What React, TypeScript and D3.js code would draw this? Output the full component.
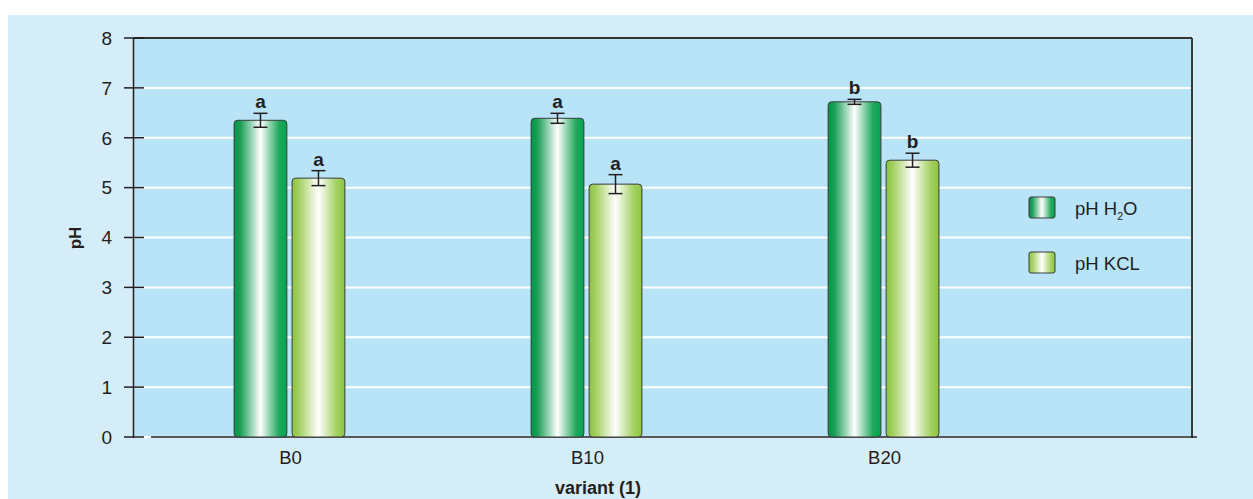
import React from "react";
import * as d3 from "d3";

// Soil pH by variant, measured in water and in KCl
const categories = ["B0", "B10", "B20"];
const seriesNames = ["pH H2O", "pH KCL"];
const phH2O = [6.35, 6.39, 6.72];
const phH2OErr = [0.14, 0.1, 0.05];
const phKCL = [5.19, 5.07, 5.55];
const phKCLErr = [0.15, 0.19, 0.14];
const h2oLetters = ["a", "a", "b"];
const kclLetters = ["a", "a", "b"];
const yTicks = [0, 1, 2, 3, 4, 5, 6, 7, 8];

const W = 1253;
const H = 499;
const FONT = "'Liberation Sans', Arial, Helvetica, sans-serif";
const INK = "#231f20";

const plot = { left: 133.5, right: 1192, top: 38, bottom: 437 };

export default function App() {
  const y = d3.scaleLinear().domain([0, 8]).range([plot.bottom, plot.top]);
  const x = d3
    .scaleBand<string>()
    .domain(categories)
    .range([142, 1031])
    .paddingInner(0.627)
    .paddingOuter(0.31);
  const xs = d3
    .scaleBand<string>()
    .domain(seriesNames)
    .range([0, x.bandwidth()])
    .paddingInner(0.09);

  const series = [
    { name: seriesNames[0], values: phH2O, errs: phH2OErr, letters: h2oLetters, grad: "gH2O" },
    { name: seriesNames[1], values: phKCL, errs: phKCLErr, letters: kclLetters, grad: "gKCL" },
  ];

  const bw = xs.bandwidth();

  return (
    <svg
      width={W}
      height={H}
      style={{ position: "absolute", left: 0, top: 0, background: "#ffffff" }}
      fontFamily={FONT}
    >
      <defs>
        <linearGradient id="gH2O" x1="0" x2="1" y1="0" y2="0">
          <stop offset="0" stopColor="#009548" />
          <stop offset="0.12" stopColor="#1a9f57" />
          <stop offset="0.5" stopColor="#ffffff" />
          <stop offset="0.85" stopColor="#20a85c" />
          <stop offset="1" stopColor="#00a551" />
        </linearGradient>
        <linearGradient id="gKCL" x1="0" x2="1" y1="0" y2="0">
          <stop offset="0" stopColor="#8cc43e" />
          <stop offset="0.12" stopColor="#a2cf5e" />
          <stop offset="0.5" stopColor="#ffffff" />
          <stop offset="0.85" stopColor="#a3d060" />
          <stop offset="1" stopColor="#8dc63f" />
        </linearGradient>
      </defs>

      {/* outer panel */}
      <rect x={8} y={15} width={W - 8} height={H - 15} fill="#d5edf8" />

      {/* plot area */}
      <rect
        x={plot.left}
        y={plot.top}
        width={plot.right - plot.left}
        height={plot.bottom - plot.top}
        fill="#b9e4f8"
      />

      {/* gridlines */}
      {yTicks.map((t) => (
        <line
          key={"g" + t}
          x1={plot.left}
          x2={plot.right}
          y1={y(t)}
          y2={y(t)}
          stroke="#ffffff"
          strokeWidth={2}
        />
      ))}

      {/* frame: top and right */}
      <line x1={plot.left} x2={plot.right} y1={plot.top} y2={plot.top} stroke="#333" strokeWidth={2} />
      <line x1={plot.right} x2={plot.right} y1={plot.top} y2={plot.bottom + 1} stroke="#3a3a3a" strokeWidth={2} />

      {/* x axis */}
      <line x1={151} x2={1197} y1={plot.bottom} y2={plot.bottom} stroke={INK} strokeWidth={1.5} />

      {/* y axis */}
      <line x1={plot.left} x2={plot.left} y1={plot.top} y2={plot.bottom + 1} stroke={INK} strokeWidth={1.5} />
      {yTicks.map((t) => (
        <g key={"t" + t}>
          <line x1={124} x2={144} y1={y(t)} y2={y(t)} stroke={INK} strokeWidth={1.5} />
          <text
            x={112}
            y={y(t)}
            dy="0.36em"
            textAnchor="end"
            fontSize={19}
            fill={INK}
          >
            {t}
          </text>
        </g>
      ))}

      {/* bars with error bars and significance letters */}
      {categories.map((c, i) => (
        <g key={c} transform={`translate(${x(c)},0)`}>
          {series.map((s) => {
            const bx = xs(s.name) as number;
            const v = s.values[i];
            const e = s.errs[i];
            const cx = bx + bw / 2;
            return (
              <g key={s.name}>
                <rect
                  x={bx}
                  y={y(v)}
                  width={bw}
                  height={y(0) - y(v)}
                  rx={3.5}
                  fill={`url(#${s.grad})`}
                  stroke="#3a3a3a"
                  strokeWidth={1}
                />
                <line x1={cx} x2={cx} y1={y(v + e)} y2={y(v - e)} stroke={INK} strokeWidth={1.5} />
                <line x1={cx - 7} x2={cx + 7} y1={y(v + e)} y2={y(v + e)} stroke={INK} strokeWidth={1.5} />
                <line x1={cx - 7} x2={cx + 7} y1={y(v - e)} y2={y(v - e)} stroke={INK} strokeWidth={1.5} />
                <text
                  x={cx}
                  y={y(v + e) - 5}
                  textAnchor="middle"
                  fontSize={19}
                  fontWeight="bold"
                  fill={INK}
                >
                  {s.letters[i]}
                </text>
              </g>
            );
          })}
          <text
            x={x.bandwidth() / 2 + 1}
            y={464}
            textAnchor="middle"
            fontSize={18.5}
            fill={INK}
          >
            {c}
          </text>
        </g>
      ))}

      {/* axis titles */}
      <text
        transform={`translate(81,238) rotate(-90)`}
        textAnchor="middle"
        fontSize={17}
        fontWeight="bold"
        fill={INK}
      >
        pH
      </text>
      <text x={598} y={494} textAnchor="middle" fontSize={18} fontWeight="bold" fill={INK}>
        variant (1)
      </text>

      {/* legend */}
      <g>
        <rect x={1029} y={197} width={26} height={21} rx={2} fill="url(#gH2O)" stroke="#3a3a3a" strokeWidth={1} />
        <text x={1075} y={208} dy="0.36em" fontSize={18.5} fill={INK}>
          pH H
          <tspan fontSize={10.5} dy={5}>2</tspan>
          <tspan dy={-5}>O</tspan>
        </text>
        <rect x={1029} y={252} width={26} height={21} rx={2} fill="url(#gKCL)" stroke="#3a3a3a" strokeWidth={1} />
        <text x={1075} y={263} dy="0.36em" fontSize={18.5} fill={INK}>
          pH KCL
        </text>
      </g>
    </svg>
  );
}
